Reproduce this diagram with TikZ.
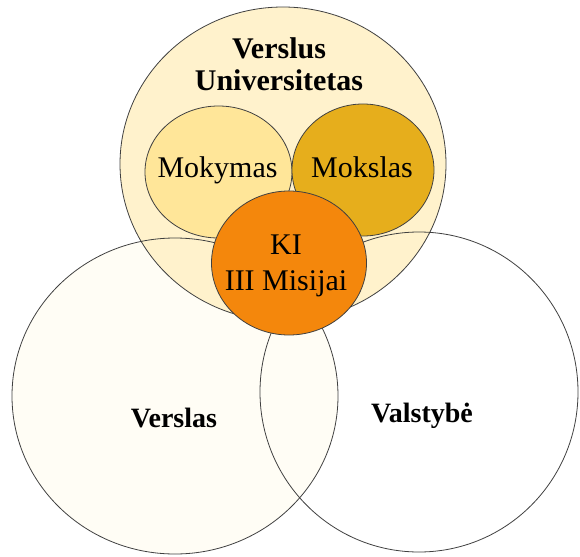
\documentclass[tikz,border=0pt]{standalone}
\usepackage{fontspec}
\setmainfont{Liberation Serif}
\definecolor{univfill}{HTML}{FFF2CC}
\definecolor{versfill}{HTML}{FFFDF5}
\definecolor{mokymasfill}{HTML}{FFE699}
\definecolor{mokslasfill}{HTML}{E6AE1C}
\definecolor{kifill}{HTML}{F4870C}
\definecolor{edge}{HTML}{404040}
\begin{document}
\begin{tikzpicture}[x=1pt,y=-1pt,line width=0.8pt,
  outline/.style={draw=edge},
  lbl/.style={inner sep=0pt,font=\fontsize{30}{36}\selectfont,align=center},
  blbl/.style={inner sep=0pt,font=\bfseries\fontsize{30}{32}\selectfont,align=center},
  vlbl/.style={inner sep=0pt,font=\bfseries\fontsize{28}{32}\selectfont}]
\useasboundingbox (0,0) rectangle (580,556);
\clip (0,0) rectangle (580,556);
% fills of the three large circles
\fill[white] (419,392) ellipse [x radius=159,y radius=160];
\fill[versfill] (175,396) ellipse [x radius=163,y radius=158];
\fill[univfill] (283,164) ellipse [x radius=163,y radius=157];
% outlines
\draw[outline] (419,392) ellipse [x radius=159,y radius=160];
\draw[outline] (175,396) ellipse [x radius=163,y radius=158];
\draw[outline] (283,164) ellipse [x radius=163,y radius=157];
% inner circles
\draw[outline,fill=mokymasfill] (218.5,172) ellipse [x radius=73.5,y radius=66];
\draw[outline,fill=mokslasfill] (363,170) ellipse [x radius=71,y radius=66];
\draw[outline,fill=kifill] (289,263) ellipse [x radius=77.5,y radius=72];
% labels (base anchor = baseline of the last line)
\node[blbl,anchor=base] (univ) at (279,91) {Verslus\\Universitetas};
\node[lbl,anchor=base] (mokymas) at (217.5,177) {Mokymas};
\node[lbl,anchor=base] (mokslas) at (362,177) {Mokslas};
\node[lbl,anchor=base] (ki) at (286,290) {KI\\III Misijai};
\node[vlbl,anchor=base] (verslas) at (174,427) {Verslas};
\node[vlbl,anchor=base] (valstybe) at (422,422) {Valstybė};
\end{tikzpicture}
\end{document}
